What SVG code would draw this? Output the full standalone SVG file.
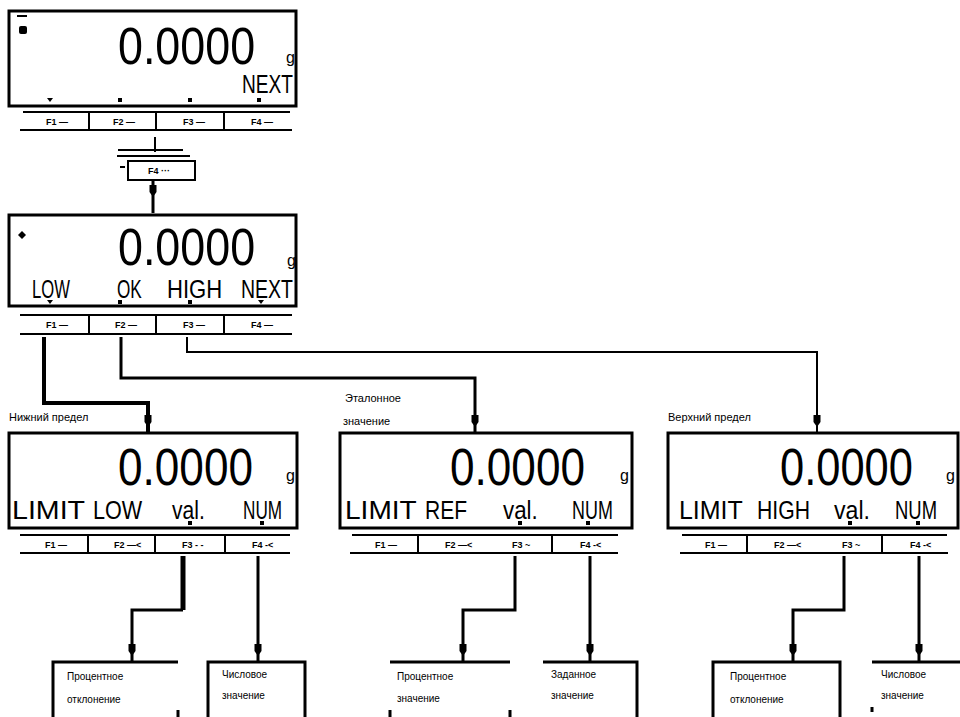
<svg xmlns="http://www.w3.org/2000/svg" width="960" height="717" viewBox="0 0 960 717">
<style>
.frame{fill:none;stroke:#000;stroke-width:3}
.bar{fill:none;stroke:#000;stroke-width:2}
.wire{fill:none;stroke:#000;stroke-width:3}
.dig{font-family:"Liberation Sans",Arial,sans-serif;font-size:52px;fill:#000}
.lcd{font-family:"Liberation Sans",Arial,sans-serif;font-size:26px;fill:#000}
.unit{font-family:"Liberation Sans",Arial,sans-serif;font-size:16px;fill:#000}
.key{font-family:"Liberation Sans",Arial,sans-serif;font-size:9px;font-weight:bold;fill:#000}
.lbl{font-family:"Liberation Sans",Arial,sans-serif;font-size:11px;fill:#000}
.txt{font-family:"Liberation Sans",Arial,sans-serif;font-size:10px;fill:#000}
</style>
<defs>
<path id="bead" d="M-3.5,-7 h7 v7 l-3.5,5 l-3.5,-5 z" fill="#000"/>
<rect id="pip" x="-2" y="-2" width="4" height="4" fill="#000"/>
</defs>

<!-- Top display -->
<g id="display-start">
<rect class="frame" x="9" y="11" width="287" height="95"/>
<path d="M17 16 h10" stroke="#000" stroke-width="2"/>
<rect x="19" y="26" width="8" height="8" rx="2" fill="#000"/>
<text class="dig" transform="translate(118,64) scale(0.862,1)">0.0000</text>
<text class="unit" x="286" y="63">g</text>
<text class="lcd" transform="translate(242,93) scale(0.736,1)">NEXT</text>
<path d="M47 98 h6 l-3 4 z" fill="#000"/>
<use href="#pip" x="120" y="100"/><use href="#pip" x="190" y="100"/><use href="#pip" x="259" y="100"/>
<path class="bar" d="M23 112 H290 M20 130 H292 M89 112 V130 M156 112 V130 M224 112 V130"/>
<text class="key" x="46" y="125">F1 —</text>
<text class="key" x="113" y="125">F2 —</text>
<text class="key" x="183" y="125">F3 —</text>
<text class="key" x="251" y="125">F4 —</text>
</g>

<!-- Key press F4 -->
<g id="keypress-f4">
<path class="bar" d="M155 137 V152 M118 150 H183 M117 156 H190 M120 167 H125"/>
<rect class="bar" x="128" y="161" width="67" height="19"/>
<text class="key" x="148" y="174">F4 ···</text>
</g>

<!-- Middle display -->
<g id="display-judge">
<rect class="frame" x="9" y="215" width="287" height="91"/>
<path d="M22 231 l4 4 l-4 4 l-4 -4 z" fill="#000"/>
<text class="dig" transform="translate(118,265) scale(0.862,1)">0.0000</text>
<text class="unit" x="287" y="266">g</text>
<text class="lcd" transform="translate(32,298) scale(0.64,1)">LOW</text>
<text class="lcd" transform="translate(117,298) scale(0.66,1)">OK</text>
<text class="lcd" transform="translate(167,298) scale(0.85,1)">HIGH</text>
<text class="lcd" transform="translate(241,298) scale(0.75,1)">NEXT</text>
<path d="M47 300 h6 l-3 4 z" fill="#000"/>
<use href="#pip" x="120" y="302"/><use href="#pip" x="190" y="302"/>
<path d="M258 300 h6 l-3 4 z" fill="#000"/>
<path class="bar" d="M20 315 H292 M20 334 H292 M89 315 V334 M156 315 V334 M224 315 V334"/>
<text class="key" x="46" y="328">F1 —</text>
<text class="key" x="115" y="328">F2 —</text>
<text class="key" x="183" y="328">F3 —</text>
<text class="key" x="251" y="328">F4 —</text>
</g>

<!-- Lower left display -->
<g id="display-low">
<text class="lbl" x="9" y="421">Нижний предел</text>
<rect class="frame" x="9" y="433" width="288" height="95"/>
<text class="dig" transform="translate(118,485) scale(0.849,1)">0.0000</text>
<text class="unit" x="286" y="481">g</text>
<text class="lcd" transform="translate(12,519) scale(1.1,1)">LIMIT</text>
<text class="lcd" transform="translate(93,519) scale(0.83,1)">LOW</text>
<text class="lcd" transform="translate(172,519) scale(0.81,1)">val.</text>
<text class="lcd" transform="translate(243,519) scale(0.66,1)">NUM</text>
<use href="#pip" x="190" y="523"/><use href="#pip" x="262" y="523"/>
<path class="bar" d="M20 535 H290 M20 553 H290 M88 535 V553 M155 535 V553 M225 535 V553"/>
<text class="key" x="45" y="548">F1 —</text>
<text class="key" x="114" y="548">F2 —&lt;</text>
<text class="key" x="182" y="548">F3 - -</text>
<text class="key" x="252" y="548">F4 -&lt;</text>
</g>

<!-- Lower middle display -->
<g id="display-ref">
<text class="lbl" x="345" y="402">Эталонное</text>
<text class="lbl" x="343" y="425">значение</text>
<rect class="frame" x="340" y="433" width="292" height="95"/>
<text class="dig" transform="translate(450,485) scale(0.849,1)">0.0000</text>
<text class="unit" x="620" y="481">g</text>
<text class="lcd" transform="translate(345,519) scale(1.08,1)">LIMIT</text>
<text class="lcd" transform="translate(425,519) scale(0.81,1)">REF</text>
<text class="lcd" transform="translate(503,519) scale(0.86,1)">val.</text>
<text class="lcd" transform="translate(572,519) scale(0.69,1)">NUM</text>
<use href="#pip" x="520" y="523"/><use href="#pip" x="588" y="523"/>
<path class="bar" d="M352 535 H618 M350 553 H618 M418 535 V553 M552 535 V553"/>
<text class="key" x="375" y="548">F1 —</text>
<text class="key" x="445" y="548">F2 —&lt;</text>
<text class="key" x="512" y="548">F3 ~</text>
<text class="key" x="580" y="548">F4 -&lt;</text>
</g>

<!-- Lower right display -->
<g id="display-high">
<text class="lbl" x="668" y="421">Верхний предел</text>
<rect class="frame" x="668" y="433" width="290" height="95"/>
<text class="dig" transform="translate(780,485) scale(0.836,1)">0.0000</text>
<text class="unit" x="946" y="481">g</text>
<text class="lcd" transform="translate(679,519) scale(0.96,1)">LIMIT</text>
<text class="lcd" transform="translate(757,519) scale(0.815,1)">HIGH</text>
<text class="lcd" transform="translate(834,519) scale(0.89,1)">val.</text>
<text class="lcd" transform="translate(895,519) scale(0.71,1)">NUM</text>
<use href="#pip" x="850" y="523"/><use href="#pip" x="918" y="523"/>
<path class="bar" d="M682 535 H947 M680 553 H948 M747 535 V553 M882 535 V553"/>
<text class="key" x="705" y="548">F1 —</text>
<text class="key" x="774" y="548">F2 —&lt;</text>
<text class="key" x="842" y="548">F3 ~</text>
<text class="key" x="910" y="548">F4 -&lt;</text>
</g>

<!-- Bottom boxes -->
<g id="box-low-pct">
<path class="wire" d="M53 717 V662 H178 M178 710 V717"/>
<text class="txt" x="67" y="680">Процентное</text>
<text class="txt" x="67" y="703">отклонение</text>
</g>
<g id="box-low-num">
<path class="wire" d="M208 717 V662 H305 V717"/>
<text class="txt" x="222" y="678">Числовое</text>
<text class="txt" x="222" y="699">значение</text>
</g>
<g id="box-ref-pct">
<path class="wire" d="M390 662 H510 M390 710 V717 M510 710 V717"/>
<text class="txt" x="397" y="680">Процентное</text>
<text class="txt" x="397" y="702">значение</text>
</g>
<g id="box-ref-num">
<path class="wire" d="M543 662 H637 V717"/>
<text class="txt" x="551" y="678">Заданное</text>
<text class="txt" x="551" y="699">значение</text>
</g>
<g id="box-high-pct">
<path class="wire" d="M713 717 V662 H840 V717"/>
<text class="txt" x="730" y="680">Процентное</text>
<text class="txt" x="730" y="703">отклонение</text>
</g>
<g id="box-high-num">
<path class="wire" d="M872 662 H960 M872 707 V712"/>
<text class="txt" x="881" y="678">Числовое</text>
<text class="txt" x="881" y="699">значение</text>
</g>

<!-- Connectors -->
<g id="connectors">
<path class="wire" d="M153 180 V213"/>
<use href="#bead" x="153" y="192"/>
<path class="wire" d="M44 337 V403 H148 V433" style="stroke-width:4"/>
<use href="#bead" x="148" y="422"/>
<path class="wire" d="M121 337 V378 H475 V433"/>
<use href="#bead" x="475" y="422"/>
<path class="wire" d="M187 337 V352 H817 V433" style="stroke-width:2"/>
<use href="#bead" x="817" y="422"/>
<path class="wire" d="M183 556 V610" style="stroke-width:5"/>
<path class="wire" d="M183 610 H132 V662"/>
<use href="#bead" x="132" y="651"/>
<path class="wire" d="M258 556 V662"/>
<use href="#bead" x="258" y="651"/>
<path class="wire" d="M515 556 V610 H463 V662"/>
<use href="#bead" x="463" y="651"/>
<path class="wire" d="M590 556 V662"/>
<use href="#bead" x="590" y="651"/>
<path class="wire" d="M844 556 V610 H793 V662"/>
<use href="#bead" x="793" y="651"/>
<path class="wire" d="M919 556 V662"/>
<use href="#bead" x="919" y="651"/>
</g>
</svg>
